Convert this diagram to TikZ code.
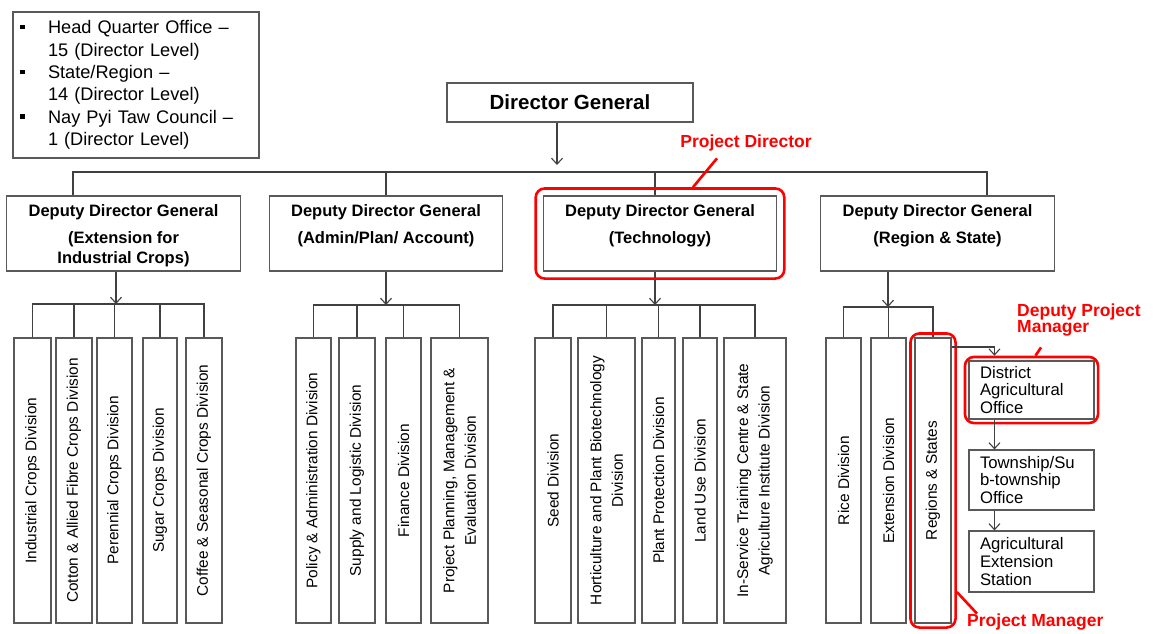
\documentclass[tikz,border=0pt]{standalone}
\usepackage{fontspec}
\setmainfont{Liberation Sans}
\usetikzlibrary{arrows.meta,fit}

\newcommand{\keybullet}{\makebox[28pt][l]{\raisebox{4.5pt}{\rule{4.5pt}{4.5pt}}}}
\newcommand{\keyindent}{\makebox[28pt][l]{}}

\tikzset{
    box/.style={draw=black!65, line width=1.1pt, fill=white, inner sep=0pt},
    ddgbox/.style={box, minimum width=233.5pt, minimum height=75pt},
    ddgtext/.style={align=center, inner sep=0pt, font=\bfseries\fontsize{16.5}{19.5}\selectfont},
    divbox/.style={box, rotate=90, minimum width=285pt, minimum height=#1, align=center,
        font=\fontsize{15.4}{21.5}\selectfont},
    divbox/.default=36pt,
    officebox/.style={box, minimum width=125pt, minimum height=#1, text width=103pt, align=left,
        font=\fontsize{16.7}{17.8}\selectfont},
    officebox/.default=60pt,
    link/.style={draw=black!75, line width=1.1pt},
    arr/.style={link, -{Straight Barb[length=6pt,width=11pt]}},
    redbox/.style={draw=red, line width=2.6pt, rounded corners=9pt, inner sep=#1},
    redline/.style={draw=red, line width=2.6pt},
    redtext/.style={text=red, inner sep=0pt, font=\bfseries\fontsize{17.5}{16}\selectfont},
}

\begin{document}
\begin{tikzpicture}[x=1pt, y=-1pt]
    \fill[white] (0,0) rectangle (1153,633);
    \useasboundingbox (0,0) rectangle (1153,633);

    \node[box, minimum width=246pt, minimum height=146pt, text width=232pt, align=left,
        font=\fontsize{18.2}{22.4}\selectfont] (key) at (136,85)
        {\keybullet Head Quarter Office –\\ \keyindent 15 (Director Level)\\
         \keybullet State/Region –\\ \keyindent 14 (Director Level)\\
         \keybullet Nay Pyi Taw Council –\\ \keyindent 1 (Director Level)};

    \node[box, minimum width=246pt, minimum height=39pt, font=\bfseries\fontsize{20.5}{24}\selectfont]
        (dg) at (570,102.5) {Director General};

    \node[ddgbox, label={[ddgtext, anchor=north, label distance=-9pt]90:{Deputy Director General\\[7.5pt](Extension for\\Industrial Crops)}}] (ddg1) at (123.5,233.5) {};
    \node[ddgbox, label={[ddgtext, anchor=north, label distance=-9pt]90:{Deputy Director General\\[7.5pt](Admin/Plan/ Account)}}] (ddg2) at (386,233.5) {};
    \node[ddgbox, label={[ddgtext, anchor=north, label distance=-9pt]90:{Deputy Director General\\[7.5pt](Technology)}}] (ddg3) at (660,233.5) {};
    \node[ddgbox, label={[ddgtext, anchor=north, label distance=-9pt]90:{Deputy Director General\\[7.5pt](Region \& State)}}] (ddg4) at (937.5,233.5) {};

    \coordinate (dgtip) at (557,165);
    \coordinate (t1) at (73,172);
    \coordinate (t4) at (987,172);
    \draw[arr] (dg.south -| dgtip) -- (dgtip);
    \draw[link] (t1 |- ddg1.north) -- (t1) -- (t4) -- (t4 |- ddg4.north);
    \draw[link] (ddg2.north) -- (ddg2.north |- t1);
    \draw[link] ([xshift=-5pt]ddg3.north) -- ([xshift=-5pt]ddg3.north |- t1);

    \node[divbox=37pt] (ind) at (32.5,480.5) {Industrial Crops Division};
    \node[divbox=36pt] (cot) at (74,480.5) {Cotton \& Allied Fibre Crops Division};
    \node[divbox=35pt] (per) at (114.5,480.5) {Perennial Crops Division};
    \node[divbox=34pt] (sug) at (160,480.5) {Sugar Crops Division};
    \node[divbox=36pt] (cof) at (204,480.5) {Coffee \& Seasonal Crops Division};

    \node[divbox=35pt] (pol) at (313.5,480.5) {Policy \& Administration Division};
    \node[divbox=36pt] (sup) at (357,480.5) {Supply and Logistic Division};
    \node[divbox=35pt] (fin) at (403.5,480.5) {Finance Division};
    \node[divbox=57pt] (ppm) at (459.5,480.5) {Project Planning, Management \&\\Evaluation Division};

    \node[divbox=36pt] (seed) at (553,480.5) {Seed Division};
    \node[divbox=57pt] (hort) at (606.5,480.5) {Horticulture and Plant Biotechnology\\Division};
    \node[divbox=33pt] (plant) at (658.5,480.5) {Plant Protection Division};
    \node[divbox=34pt] (land) at (700,480.5) {Land Use Division};
    \node[divbox=62pt] (isv) at (755,480.5) {In-Service Training Centre \& State\\Agriculture Institute Division};

    \node[divbox=35pt] (rice) at (843.5,480.5) {Rice Division};
    \node[divbox=35pt] (ext) at (888.5,480.5) {Extension Division};
    \node[divbox=36pt] (reg) at (933,480.5) {Regions \& States};

    \coordinate (bus1) at (116,304);
    \coordinate (bus2) at (386,305);
    \coordinate (bus3) at (655,305);
    \coordinate (bus4) at (888,307);
    \draw[arr] (ddg1.south -| bus1) -- (bus1);
    \draw[arr] (ddg2.south -| bus2) -- (bus2);
    \draw[arr] (ddg3.south -| bus3) -- (bus3);
    \draw[arr] (ddg4.south -| bus4) -- (bus4);

    \draw[link] (ind.east) |- (bus1) -| (cof.east);
    \foreach \n in {cot,per,sug}
        \draw[link] (\n.east) -- (\n.east |- bus1);
    \draw[link] (pol.east) |- (bus2) -| (ppm.east);
    \foreach \n in {sup,fin}
        \draw[link] (\n.east) -- (\n.east |- bus2);
    \draw[link] (seed.east) |- (bus3) -| (isv.east);
    \foreach \n in {hort,plant,land}
        \draw[link] (\n.east) -- (\n.east |- bus3);
    \draw[link] (rice.east) |- (bus4) -| (reg.east);
    \draw[link] (ext.east) -- (ext.east |- bus4);

    \node[officebox=58pt] (dist) at (1031.5,390) {District\\Agricultural\\Office};
    \node[officebox=60pt] (town) at (1031.5,480) {Township/Su\\b-township\\Office};
    \node[officebox=61pt] (stat) at (1031.5,561.5) {Agricultural\\Extension\\Station};

    \node[redbox=7pt, fit=(ddg3)] (pdbox) {};
    \node[redbox=4pt, fit=(reg)] (pmbox) {};
    \node[redbox=3.5pt, fit=(dist)] (dpmbox) {};

    \coordinate (dtop) at ([xshift=26pt]dist.north west);
    \draw[arr] (reg.south |- 0,347) -| (dtop |- dpmbox.north);
    \draw[arr] (dtop |- dist.south) -- (dtop |- town.north);
    \draw[arr] (dtop |- town.south) -- (dtop |- stat.north);

    \node[redtext] (pdlab) at (746,143) {Project Director};
    \node[redtext, align=left, anchor=west] (dpmlab) at (1017,320) {Deputy Project\\Manager};
    \node[redtext, anchor=west] (pmlab) at (967,622) {Project Manager};

    \draw[redline] ([shift={(-29pt,-7pt)}]pdlab.south) -- ([xshift=33pt]pdbox.north);
    \draw[redline] ([shift={(24pt,-11pt)}]dpmlab.south west) -- ([xshift=4pt]dpmbox.north);
    \draw[redline] (pmbox.east |- 0,592) -- ([xshift=10pt]pmlab.north west);
\end{tikzpicture}
\end{document}
